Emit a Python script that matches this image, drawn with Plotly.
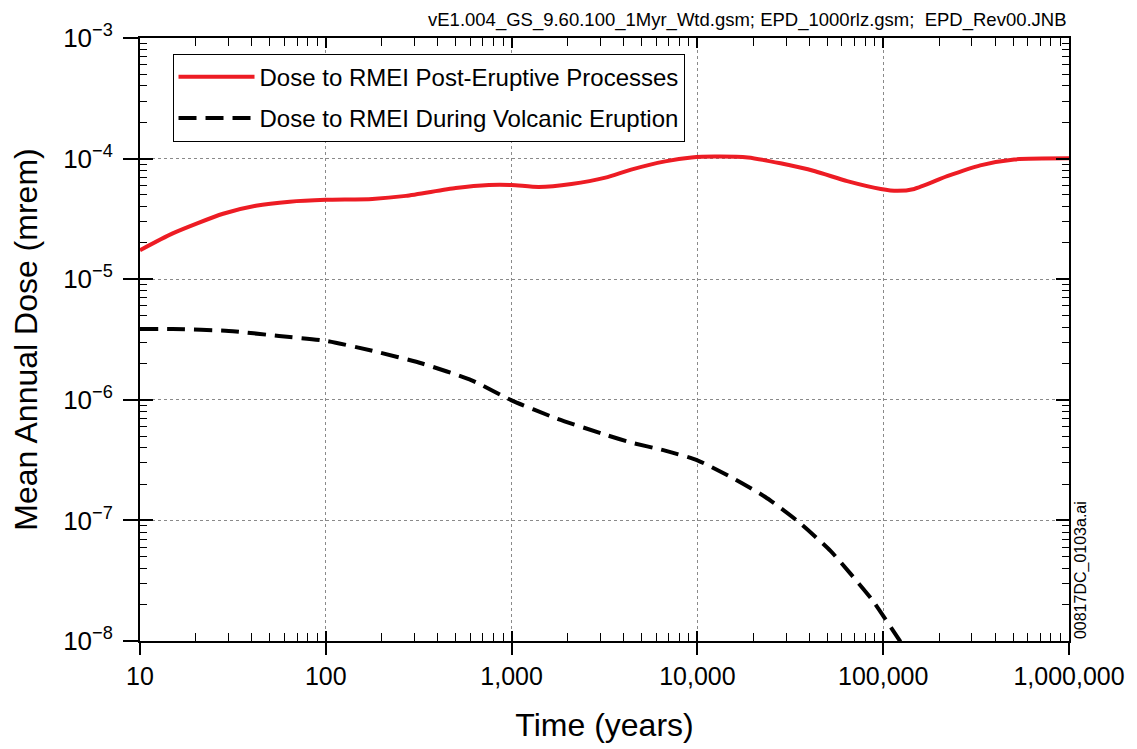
import plotly.graph_objects as go

# ---- data ----
time_post = [10, 15, 28, 42, 64, 100, 178, 270, 500, 755, 1000, 1400, 2100, 3200, 4400,
             6700, 9300, 12400, 18700, 28000, 43000, 64000, 97000, 119000, 147000,
             221000, 333000, 507000, 1000000]
dose_post = [1.74e-5, 2.40e-5, 3.49e-5, 4.06e-5, 4.39e-5, 4.55e-5, 4.63e-5, 4.91e-5, 5.70e-5,
             6.04e-5, 6.04e-5, 5.81e-5, 6.15e-5, 6.95e-5, 8.10e-5, 9.48e-5, 1.023e-4, 1.042e-4,
             1.023e-4, 9.14e-5, 7.85e-5, 6.50e-5, 5.60e-5, 5.40e-5, 5.60e-5, 7.14e-5, 8.79e-5,
             9.84e-5, 1.005e-4]

time_erupt = [10, 15, 30, 56, 100, 178, 330, 610, 1000, 1720, 3200, 4400, 6700, 10000,
              15200, 23100, 34800, 52200, 66800, 87700, 122000, 135000]
dose_erupt = [3.86e-6, 3.86e-6, 3.72e-6, 3.38e-6, 3.08e-6, 2.55e-6, 2.00e-6, 1.45e-6, 9.9e-7,
              7.06e-7, 5.13e-7, 4.42e-7, 3.79e-7, 3.15e-7, 2.28e-7, 1.57e-7, 9.8e-8, 5.56e-8,
              3.60e-8, 2.17e-8, 1.02e-8, 8.1e-9]

x_tickvals = [10, 100, 1000, 10000, 100000, 1000000]
x_ticktext = ["10", "100", "1,000", "10,000", "100,000", "1,000,000"]
y_tickvals = [1e-8, 1e-7, 1e-6, 1e-5, 1e-4, 1e-3]
y_ticktext = ["10<sup>−8</sup>", "10<sup>−7</sup>", "10<sup>−6</sup>",
              "10<sup>−5</sup>", "10<sup>−4</sup>", "10<sup>−3</sup>"]

series_names = ["Dose to RMEI Post-Eruptive Processes", "Dose to RMEI During Volcanic Eruption"]

FONT = "Liberation Sans, Arial, sans-serif"
RED = "#ED1C24"

fig = go.Figure()
fig.add_trace(go.Scatter(x=time_post, y=dose_post, mode="lines", name=series_names[0],
                         line=dict(color=RED, width=4, shape="spline", smoothing=0.6),
                         legendgroup="a"))
fig.add_trace(go.Scatter(x=time_erupt, y=dose_erupt, mode="lines", name=series_names[1],
                         line=dict(color="black", width=4, dash="18px,9px", shape="spline", smoothing=0.6),
                         legendgroup="b"))
# transparent copy that carries the overlay (inside-tick) axes
fig.add_trace(go.Scatter(x=time_post, y=dose_post, mode="lines", xaxis="x2", yaxis="y2",
                         showlegend=False, hoverinfo="skip",
                         line=dict(color="rgba(0,0,0,0)", width=0)))

common = dict(type="log", showline=True, linecolor="black", linewidth=2)

fig.update_layout(
    width=1129, height=741,
    margin=dict(l=132, r=65, t=22, b=108),
    paper_bgcolor="white", plot_bgcolor="white",
    font=dict(family=FONT, color="black"),
    showlegend=True,
    legend=dict(x=0.035, y=0.974, xanchor="left", yanchor="top",
                bordercolor="black", borderwidth=1, bgcolor="white",
                font=dict(size=24, family=FONT), tracegroupgap=7,
                traceorder="grouped", itemwidth=76),
    xaxis=dict(**common, range=[1, 6], mirror=True,
               tickvals=x_tickvals, ticktext=x_ticktext,
               ticks="outside", ticklen=12, tickwidth=1.5, tickcolor="black",
               tickfont=dict(size=25), showgrid=True, gridcolor="#8a8a8a",
               griddash="dot", gridwidth=1,
               title=dict(text="Time (years)", font=dict(size=32), standoff=25)),
    yaxis=dict(**common, range=[-8, -3], mirror=True,
               tickvals=y_tickvals, ticktext=y_ticktext,
               ticks="outside", ticklen=15, tickwidth=1.5, tickcolor="black",
               tickfont=dict(size=26), showgrid=True, gridcolor="#8a8a8a",
               griddash="dot", gridwidth=1, ticklabelstandoff=5,
               title=dict(text="Mean Annual Dose (mrem)", font=dict(size=32), standoff=18)),
    xaxis2=dict(type="log", range=[1, 6], overlaying="x", side="bottom", anchor="y2",
                showline=False, showgrid=False, showticklabels=False,
                tickvals=x_tickvals, ticks="inside", ticklen=10, tickwidth=1.5,
                tickcolor="black", mirror="allticks",
                minor=dict(ticks="inside", ticklen=8, tickwidth=1, tickcolor="black",
                           dtick="D1", showgrid=False)),
    yaxis2=dict(type="log", range=[-8, -3], overlaying="y", side="left", anchor="x2",
                showline=False, showgrid=False, showticklabels=False,
                tickvals=y_tickvals, ticks="inside", ticklen=13, tickwidth=1.5,
                tickcolor="black", mirror="allticks",
                minor=dict(ticks="inside", ticklen=7, tickwidth=1, tickcolor="black",
                           dtick="D1", showgrid=False)),
    annotations=[
        dict(text="vE1.004_GS_9.60.100_1Myr_Wtd.gsm; EPD_1000rlz.gsm;  EPD_Rev00.JNB",
             xref="paper", yref="paper", x=1.0, y=1.03, xanchor="right", yanchor="middle",
             showarrow=False, font=dict(size=18.5, family=FONT)),
        dict(text="00817DC_0103a.ai", xref="paper", yref="paper", x=1.013, y=0.0,
             xanchor="center", yanchor="bottom", textangle=-90, showarrow=False,
             font=dict(size=16, family=FONT)),
    ],
)

fig.write_html("out.html")
